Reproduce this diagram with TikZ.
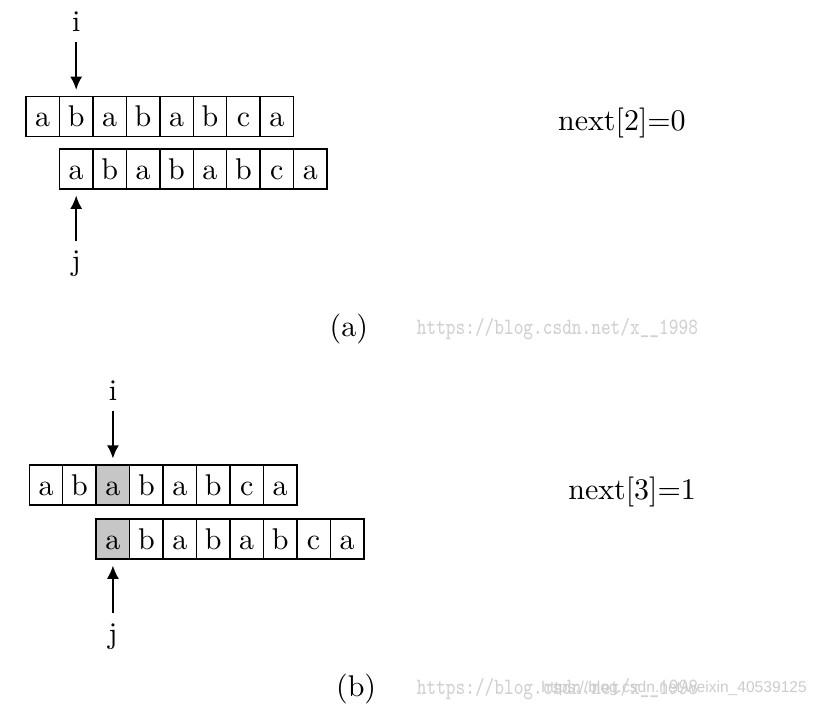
\documentclass[tikz,border=0pt]{standalone}
\usepackage{fontspec}
\usetikzlibrary{positioning,arrows.meta,math}
\newfontfamily\wmsans{Liberation Sans}

\tikzset{
  cell/.style={draw, line width=0.5pt, minimum width=11.15pt, minimum height=13.3pt,
    inner sep=0pt, text height=6.94pt, text depth=0pt},
  hit/.style={cell, fill=gray!45},
  ptr/.style={-{Latex[length=4.4pt,width=4pt]}, line width=0.5pt, shorten >=2pt},
  wmark/.style={text=black!18, font=\ttfamily\fontsize{7.8}{7.8}\selectfont, xscale=0.78, transform shape},
  wmsans/.style={text=black!20, font=\wmsans\fontsize{5.2}{5.2}\selectfont}
}

\begin{document}
\begin{tikzpicture}[x=1pt,y=1pt]
  \tikzmath{\w = 11.15; \ta = 3.09; \tb = 4.19;}
  \useasboundingbox (0,0) rectangle (277.33,240.33);

  \foreach \c [count=\k] in {a,b,a,b,a,b,c,a} {
    \node[cell] (ta\k) at (\ta+\w*\k, 201.5) {\c};
    \node[cell] (tb\k) at (\ta+\w*\k+\w, 184) {\c};
  }
  \node[above=17.85pt of ta2] (ti) {i};
  \node[below=17pt of tb1] (tj) {j};
  \draw[ptr] (ti) -- (ta2);
  \draw[ptr] (tj) -- (tb1);
  \node[anchor=base] (tn) at (207.3,196.8) {next[2]=0};
  \node (tcap) at (116.3,130.7) {(a)};
  \node[wmark] (tw) at (185.8,130.7) {https://blog.csdn.net/x\_\_1998};

  \foreach \c/\s [count=\k] in {a/cell,b/cell,a/hit,b/cell,a/cell,b/cell,c/cell,a/cell} {
    \node[\s] (ba\k) at (\tb+\w*\k, 78.6) {\c};
  }
  \foreach \c/\s [count=\k] in {a/hit,b/cell,a/cell,b/cell,a/cell,b/cell,c/cell,a/cell} {
    \node[\s] (bb\k) at (\tb+\w*\k+2*\w, 60.7) {\c};
  }
  \node[above=17.7pt of ba3] (bi) {i};
  \node[below=17.7pt of bb1] (bj) {j};
  \draw[ptr] (bi) -- (ba3);
  \draw[ptr] (bj) -- (bb1);
  \node[anchor=base] (bn) at (210.7,73.9) {next[3]=1};
  \node (bcap) at (118.7,10.7) {(b)};
  \node[wmark] (bw) at (185.8,10.7) {https://blog.csdn.net/x\_\_1998};
  \node[wmsans] (bw2) at (224.7,10.9) {https://blog.csdn.net/weixin\_40539125};
\end{tikzpicture}
\end{document}
